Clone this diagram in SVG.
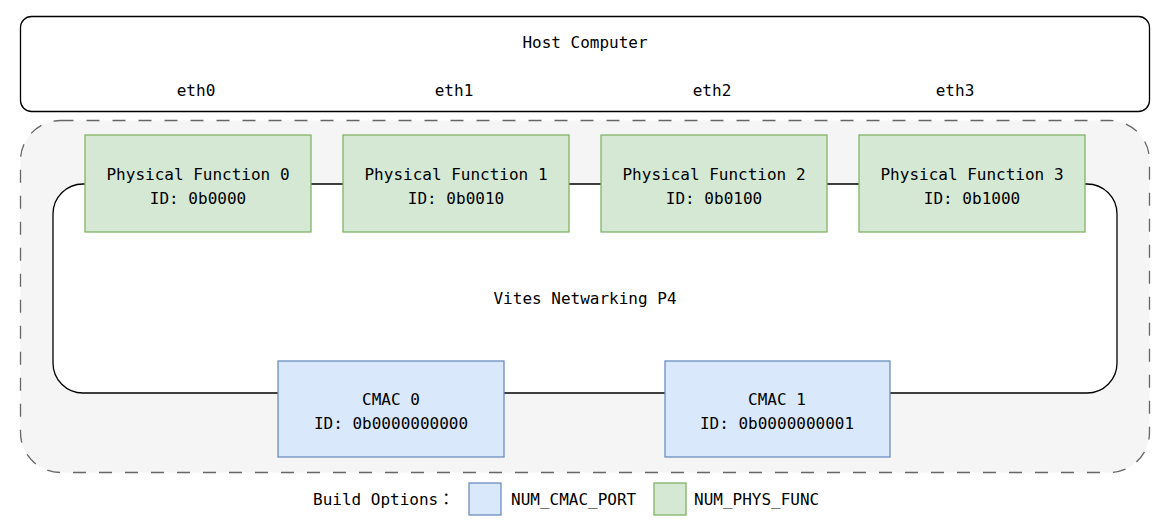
<svg xmlns="http://www.w3.org/2000/svg" width="1170" height="526" viewBox="0 0 1170 526">
<style>
text{font-family:"DejaVu Sans Mono","Liberation Mono","Noto Sans CJK JP",monospace;font-size:16px;fill:#000;text-anchor:middle}
.pf{fill:#d5e8d4;stroke:#82b366;stroke-width:1.3}
.cm{fill:#dae8fc;stroke:#6c8ebf;stroke-width:1.3}
.conn{fill:none;stroke:#000;stroke-width:1.3}
</style>
<rect width="1170" height="526" fill="#fff"/>
<g id="host">
<rect x="20.5" y="16.5" width="1129" height="95" rx="11" fill="#fff" stroke="#000" stroke-width="1.3"/>
<text x="585" y="48">Host Computer</text>
<text x="196" y="96">eth0</text>
<text x="454" y="96">eth1</text>
<text x="712" y="96">eth2</text>
<text x="955" y="96">eth3</text>
</g>
<g id="fpga">
<rect x="20.5" y="120.5" width="1129" height="352" rx="40" fill="#f5f5f5" stroke="#666" stroke-width="1.3" stroke-dasharray="13 13"/>
<rect x="53" y="184" width="1064" height="209" rx="30" fill="#fff"/>
<text x="585" y="304">Vites Netwarking P4</text>
</g>
<g id="connectors">
<path class="conn" d="M311 184H343M569 184H601M827 184H859"/>
<path class="conn" d="M1085 184H1087A30 30 0 0 1 1117 214V363A30 30 0 0 1 1087 393H890"/>
<path class="conn" d="M665 393H504"/>
<path class="conn" d="M278 393H83A30 30 0 0 1 53 363V214A30 30 0 0 1 83 184H85"/>
</g>
<g id="pf0"><rect class="pf" x="85" y="135" width="226" height="97"/><text x="198" y="180">Physical Function 0</text><text x="198" y="204">ID: 0b0000</text></g>
<g id="pf1"><rect class="pf" x="343" y="135" width="226" height="97"/><text x="456" y="180">Physical Function 1</text><text x="456" y="204">ID: 0b0010</text></g>
<g id="pf2"><rect class="pf" x="601" y="135" width="226" height="97"/><text x="714" y="180">Physical Function 2</text><text x="714" y="204">ID: 0b0100</text></g>
<g id="pf3"><rect class="pf" x="859" y="135" width="226" height="97"/><text x="972" y="180">Physical Function 3</text><text x="972" y="204">ID: 0b1000</text></g>
<g id="cmac0"><rect class="cm" x="278" y="361" width="226" height="96"/><text x="391" y="405">CMAC 0</text><text x="391" y="429">ID: 0b0000000000</text></g>
<g id="cmac1"><rect class="cm" x="665" y="361" width="225" height="96"/><text x="777" y="405">CMAC 1</text><text x="777" y="429">ID: 0b0000000001</text></g>
<g id="legend">
<text x="313" y="505" style="text-anchor:start">Build Options：</text>
<rect class="cm" x="469" y="483" width="32" height="32"/>
<text x="511" y="505" style="text-anchor:start">NUM_CMAC_PORT</text>
<rect class="pf" x="654" y="483" width="32" height="32"/>
<text x="694" y="505" style="text-anchor:start">NUM_PHYS_FUNC</text>
</g>
</svg>
